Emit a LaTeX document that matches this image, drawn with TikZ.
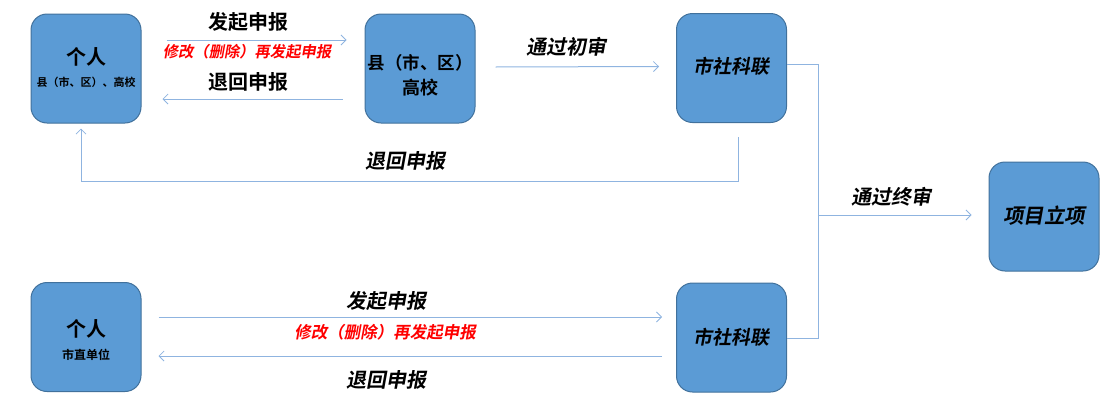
\documentclass[tikz,border=0pt]{standalone}
\usepackage{fontspec}
\usetikzlibrary{arrows.meta}
\newfontfamily\cjk{Noto Sans CJK SC}[BoldFont={Noto Sans CJK SC Bold}]
\newfontfamily\cjksl{Noto Sans CJK SC}[FakeSlant=0.18,BoldFont={Noto Sans CJK SC Bold},BoldFeatures={FakeSlant=0.18}]
\definecolor{boxfill}{HTML}{5B9BD5}
\definecolor{boxline}{HTML}{41719C}
\definecolor{linkc}{HTML}{8FB4E0}
\definecolor{redtxt}{HTML}{FF0000}
\newcommand{\fs}[1]{\fontsize{#1}{#1}\selectfont}
\begin{document}
\begin{tikzpicture}[x=1pt,y=-1pt,
  box/.style={draw=boxline, fill=boxfill, line width=1pt, rounded corners=16pt,
    minimum width=110pt, minimum height=109pt, inner sep=0pt, align=center, text=black},
  boxtxt/.style={inner sep=0pt, align=center, text=black},
  plain/.style={draw=linkc, line width=1pt},
  link/.style={plain, -{Straight Barb[length=5pt,width=10pt,line width=0.8pt]}},
  lbl/.style={inner sep=0pt, text=black, font=\cjksl\bfseries\fs{20}},
  lblup/.style={inner sep=0pt, text=black, font=\cjk\bfseries\fs{20}},
  redl/.style={inner sep=0pt, text=redtxt, font=\cjksl\bfseries\fs{15.3}},
  redb/.style={inner sep=0pt, text=redtxt, font=\cjksl\bfseries\fs{16.5}}]
\useasboundingbox (0,0) rectangle (1105,410);
% boxes
\node[box] (A) at (86,68.5) {};
\node[box] (B) at (420,68.5) {};
\node[box] (C) at (731.5,68) {};
\node[box] (D) at (1044,216.5) {};
\node[box] (E) at (86,337) {};
\node[box] (F) at (731.5,337.5) {};
% box texts
\node[boxtxt, font=\cjk\bfseries\fs{20}] (At1) at (86,57) {个人};
\node[boxtxt, font=\cjk\bfseries\fs{11}] (At2) at (86,82) {县（市、区）、高校};
\node[boxtxt, font=\cjk\bfseries\fs{17.5}] (Bt1) at (420,63) {县（市、区）};
\node[boxtxt, font=\cjk\bfseries\fs{18}] (Bt2) at (420,88) {高校};
\node[boxtxt, font=\cjksl\bfseries\fs{19}] (Ct) at (731.5,66) {市社科联};
\node[boxtxt, font=\cjksl\bfseries\fs{20.5}] (Dt) at (1044,216) {项目立项};
\node[boxtxt, font=\cjk\bfseries\fs{20}] (Et1) at (86,329) {个人};
\node[boxtxt, font=\cjk\bfseries\fs{12}] (Et2) at (86,355) {市直单位};
\node[boxtxt, font=\cjksl\bfseries\fs{19}] (Ft) at (731.5,337) {市社科联};
% junction coordinates
\coordinate (ret) at (81,181);
\coordinate (j) at (818,215);
% top row connectors
\draw[link] ([xshift=25pt,yshift=28.5pt]A.east) -- ([xshift=-18pt,yshift=28.5pt]B.west);
\draw[link] ([xshift=-22pt,yshift=-30.5pt]B.west) -- ([xshift=21pt,yshift=-30.5pt]A.east);
\draw[link] ([xshift=20pt,yshift=1.5pt]B.east) -- ([xshift=-17pt,yshift=1.5pt]C.west);
\draw[link] ([xshift=6.5pt,yshift=-14pt]C.south) |- (ret) -- ([xshift=-5pt,yshift=-5pt]A.south);
% final review
\draw[plain] ([yshift=4pt]C.east) -| (j);
\draw[plain] ([yshift=-0.5pt]F.east) -| (j);
\draw[link] (j) -- ([xshift=-17pt,yshift=1.5pt]D.west);
% bottom row connectors
\draw[link] ([xshift=17pt,yshift=20pt]E.east) -- ([xshift=-14pt,yshift=20.5pt]F.west);
\draw[link] ([xshift=-14pt,yshift=-18.5pt]F.west) -- ([xshift=17pt,yshift=-19pt]E.east);
% labels
\node[lblup] (l1) at (248,22) {发起申报};
\node[redl] (l2) at (247,52) {修改（删除）再发起申报};
\node[lblup] (l3) at (248,82) {退回申报};
\node[lbl] (l4) at (566,47) {通过初审};
\node[lbl] (l5) at (405,161) {退回申报};
\node[lbl] (l6) at (891,197) {通过终审};
\node[lbl] (l7) at (386,301) {发起申报};
\node[redb] (l8) at (385,332) {修改（删除）再发起申报};
\node[lbl] (l9) at (386,380) {退回申报};
\end{tikzpicture}
\end{document}
